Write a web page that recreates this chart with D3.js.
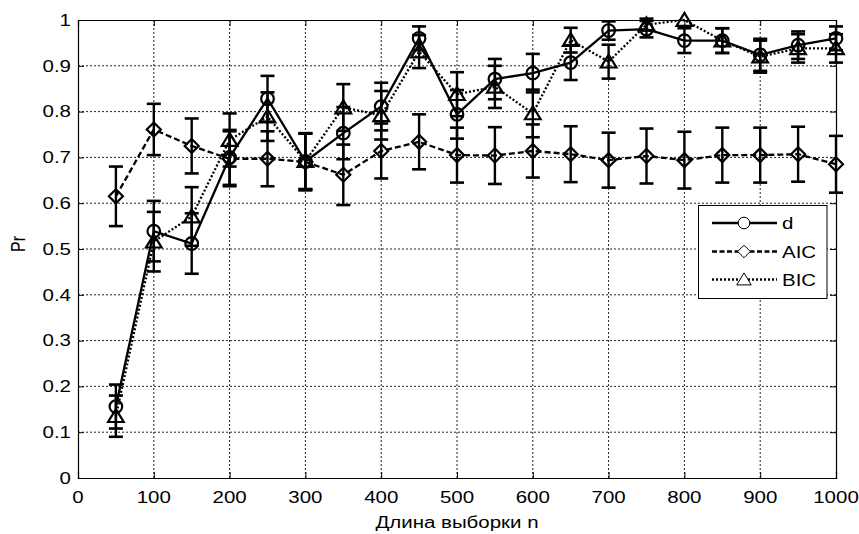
<!DOCTYPE html>
<html>
<head>
<meta charset="utf-8">
<script src="https://cdn.jsdelivr.net/npm/d3@7/dist/d3.min.js"></script>
<style>
  html, body { margin: 0; padding: 0; background: #fff; }
  svg { display: block; }
  text { font-family: "Liberation Sans", Arial, sans-serif; fill: #000; }
</style>
</head>
<body>
<svg id="chart" width="859" height="534"></svg>
<script>
// Sample sizes
const sampleSizes = [50, 100, 150, 200, 250, 300, 350, 400, 450, 500,
                     550, 600, 650, 700, 750, 800, 850, 900, 950, 1000];

// Probability of correct order selection, with error half-widths
const dValues   = [0.156, 0.539, 0.512, 0.700, 0.828, 0.691, 0.753, 0.811, 0.960, 0.794,
                   0.871, 0.884, 0.907, 0.977, 0.980, 0.955, 0.955, 0.924, 0.945, 0.960];
const dErrors   = [0.048, 0.066, 0.066, 0.060, 0.050, 0.061, 0.057, 0.052, 0.026, 0.053,
                   0.044, 0.042, 0.038, 0.020, 0.018, 0.027, 0.027, 0.035, 0.030, 0.026];

const aicValues = [0.615, 0.761, 0.725, 0.697, 0.697, 0.690, 0.662, 0.714, 0.734, 0.705,
                   0.704, 0.714, 0.707, 0.694, 0.703, 0.694, 0.705, 0.705, 0.707, 0.685];
const aicErrors = [0.065, 0.056, 0.060, 0.060, 0.060, 0.062, 0.066, 0.060, 0.060, 0.060,
                   0.062, 0.058, 0.061, 0.060, 0.060, 0.062, 0.060, 0.060, 0.060, 0.062];

const bicValues = [0.135, 0.516, 0.571, 0.738, 0.789, 0.692, 0.809, 0.792, 0.931, 0.838,
                   0.854, 0.796, 0.956, 0.909, 0.990, 1.000, 0.955, 0.920, 0.938, 0.938];
const bicErrors = [0.045, 0.065, 0.064, 0.058, 0.053, 0.061, 0.051, 0.053, 0.036, 0.048,
                   0.046, 0.052, 0.027, 0.037, 0.013, 0.000, 0.027, 0.035, 0.031, 0.031];

const xTicks = [0, 100, 200, 300, 400, 500, 600, 700, 800, 900, 1000];
const yTicks = [0, 0.1, 0.2, 0.3, 0.4, 0.5, 0.6, 0.7, 0.8, 0.9, 1];
const yTickLabels = ["0", "0.1", "0.2", "0.3", "0.4", "0.5", "0.6", "0.7", "0.8", "0.9", "1"];

const seriesNames = ["d", "AIC", "BIC"];

const svg = d3.select("#chart");
const X0 = 78, X1 = 836, Y0 = 478, Y1 = 20;
const x = d3.scaleLinear().domain([0, 1000]).range([X0, X1]);
const y = d3.scaleLinear().domain([0, 1]).range([Y0, Y1]);

const SX = 1.28;   // horizontal stretch of the lettering
const FS = 16;

function label(g, txt, px, py, anchor, rot) {
  const t = g.append("text")
    .attr("transform", `translate(${px},${py}) scale(${SX},1)` + (rot ? ` rotate(${rot})` : ""))
    .attr("text-anchor", anchor)
    .style("font-size", FS + "px")
    .text(txt);
  return t;
}

svg.append("rect").attr("width", 859).attr("height", 534).attr("fill", "#fff");

// grid
const grid = svg.append("g");
grid.selectAll("line.gx").data(xTicks.slice(1, -1)).join("line")
  .attr("x1", d => x(d)).attr("x2", d => x(d))
  .attr("y1", Y0).attr("y2", Y1)
  .attr("stroke", "#222").attr("stroke-width", 1).attr("stroke-dasharray", "2,2");
grid.selectAll("line.gy").data(yTicks.slice(1, -1)).join("line")
  .attr("y1", d => y(d)).attr("y2", d => y(d))
  .attr("x1", X0).attr("x2", X1)
  .attr("stroke", "#222").attr("stroke-width", 1).attr("stroke-dasharray", "2,2");

// axes with inward ticks on all four sides
const tk = 6;
const axisBottom = d3.axisBottom(x).tickValues(xTicks).tickSize(-tk).tickFormat("");
const axisTop = d3.axisTop(x).tickValues(xTicks).tickSize(-tk).tickFormat("");
const axisLeft = d3.axisLeft(y).tickValues(yTicks).tickSize(-tk).tickFormat("");
const axisRight = d3.axisRight(y).tickValues(yTicks).tickSize(-tk).tickFormat("");
[[axisBottom, `translate(0,${Y0})`], [axisTop, `translate(0,${Y1})`],
 [axisLeft, `translate(${X0},0)`], [axisRight, `translate(${X1},0)`]].forEach(([ax, tr]) => {
  const g = svg.append("g").attr("transform", tr).call(ax);
  g.select(".domain").attr("stroke", "#000").attr("stroke-width", 1.2);
  g.selectAll(".tick line").attr("stroke", "#000").attr("stroke-width", 1);
});

// tick labels
const labels = svg.append("g");
xTicks.forEach(v => label(labels, String(v), x(v), 503, "middle"));
yTicks.forEach((v, i) => label(labels, yTickLabels[i], 71, y(v) + 5.7, "end"));
label(labels, "Длина выборки n", (X0 + X1) / 2, 528, "middle");
label(labels, "Pr", 25, 244, "middle", -90);

// series
const series = [
  { name: seriesNames[0], vals: dValues,   errs: dErrors,   dash: null,  marker: "circle" },
  { name: seriesNames[1], vals: aicValues, errs: aicErrors, dash: "6,3", marker: "diamond" },
  { name: seriesNames[2], vals: bicValues, errs: bicErrors, dash: "2,2", marker: "triangle" }
];

function markerPath(type, s) {
  if (type === "circle") return d3.symbol().type(d3.symbolCircle).size(Math.PI * s * s)();
  if (type === "diamond") return `M0,${-s}L${s},0L0,${s}L${-s},0Z`;
  const h = s * 1.9, w = s * 1.15;
  return `M0,${-h * 0.55}L${w},${h * 0.45}L${-w},${h * 0.45}Z`;
}
const markerSize = { circle: 6.3, diamond: 7, triangle: 6.8 };

const capW = 7;
series.forEach(s => {
  const g = svg.append("g");
  const pts = sampleSizes.map((n, i) => ({ n, v: s.vals[i], e: s.errs[i] }));
  // error bars
  const eb = g.selectAll("g.eb").data(pts).join("g");
  eb.append("line")
    .attr("x1", d => x(d.n)).attr("x2", d => x(d.n))
    .attr("y1", d => y(d.v - d.e)).attr("y2", d => y(d.v + d.e))
    .attr("stroke", "#000").attr("stroke-width", 2.4);
  eb.filter(d => d.e > 0).append("line")
    .attr("x1", d => x(d.n) - capW).attr("x2", d => x(d.n) + capW)
    .attr("y1", d => y(d.v + d.e)).attr("y2", d => y(d.v + d.e))
    .attr("stroke", "#000").attr("stroke-width", 2.6);
  eb.filter(d => d.e > 0).append("line")
    .attr("x1", d => x(d.n) - capW).attr("x2", d => x(d.n) + capW)
    .attr("y1", d => y(d.v - d.e)).attr("y2", d => y(d.v - d.e))
    .attr("stroke", "#000").attr("stroke-width", 2.6);
  // connecting line
  g.append("path").datum(pts)
    .attr("d", d3.line().x(d => x(d.n)).y(d => y(d.v)))
    .attr("fill", "none").attr("stroke", "#000").attr("stroke-width", 2.3)
    .attr("stroke-dasharray", s.dash);
  // markers
  g.selectAll("path.mk").data(pts).join("path")
    .attr("transform", d => `translate(${x(d.n)},${y(d.v)})`)
    .attr("d", markerPath(s.marker, markerSize[s.marker]))
    .attr("fill", "none").attr("stroke", "#000").attr("stroke-width", 2.2);
});

// legend
const lg = svg.append("g");
lg.append("rect").attr("x", 698.5).attr("y", 205.5).attr("width", 128.5).attr("height", 93)
  .attr("fill", "#fff").attr("stroke", "#000").attr("stroke-width", 1);
const rowsY = [223, 251.5, 279.5];
series.forEach((s, i) => {
  const yy = rowsY[i];
  lg.append("line").attr("x1", 712).attr("x2", 777).attr("y1", yy).attr("y2", yy)
    .attr("stroke", "#000").attr("stroke-width", 2.3)
    .attr("stroke-dasharray", s.dash === "6,3" ? "5,2.5" : s.dash);
  lg.append("path").attr("transform", `translate(744,${yy})`)
    .attr("d", markerPath(s.marker, s.marker === "circle" ? 5.8 : 6.3))
    .attr("fill", "#fff").attr("stroke", "#000").attr("stroke-width", 1);
  label(lg, s.name, 782, yy + 6, "start");
});
</script>
</body>
</html>
